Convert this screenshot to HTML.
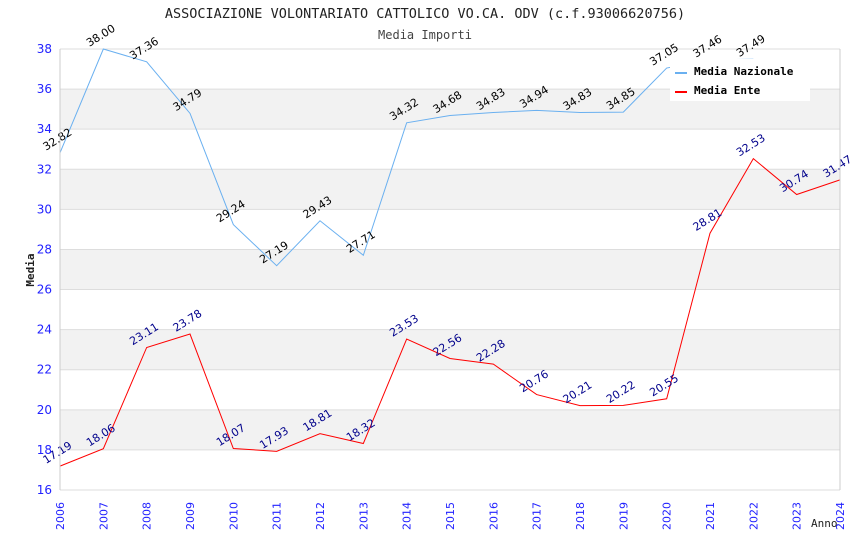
<!DOCTYPE html>
<html><head><meta charset="utf-8"><style>
body{margin:0;background:#fff;}
svg text{font-family:"DejaVu Sans","Liberation Sans",sans-serif;}
.mono{font-family:"DejaVu Sans Mono","Liberation Mono",monospace !important;}
</style></head><body>
<svg id="chart" width="850" height="550" xmlns="http://www.w3.org/2000/svg">
<text class="mono" x="425" y="18" text-anchor="middle" font-size="13.5" fill="#222">ASSOCIAZIONE VOLONTARIATO CATTOLICO VO.CA. ODV (c.f.93006620756)</text>
<text class="mono" x="425" y="39" text-anchor="middle" font-size="12" fill="#444">Media Importi</text>
<text class="mono" transform="translate(34,270) rotate(-90)" text-anchor="middle" font-size="11" font-weight="bold" fill="#222">Media</text>
<text class="mono" x="811" y="527" font-size="11" fill="#222">Anno</text>
<g id="bands"></g><g id="grid"></g><g id="series"></g><g id="labels"></g><g id="axes"></g>
<g>
<rect x="670" y="59" width="140" height="42" fill="#fff"/>
<rect x="675" y="72" width="12" height="2" fill="#6ab0f0"/>
<text class="mono" x="694" y="75" font-size="11" font-weight="bold" fill="#000">Media Nazionale</text>
<rect x="675" y="91" width="12" height="2" fill="#f00"/>
<text class="mono" x="694" y="94" font-size="11" font-weight="bold" fill="#000">Media Ente</text>
</g>
</svg>
<script>
const years=[2006,2007,2008,2009,2010,2011,2012,2013,2014,2015,2016,2017,2018,2019,2020,2021,2022,2023,2024];
const nazionale=[32.82,38.00,37.36,34.79,29.24,27.19,29.43,27.71,34.32,34.68,34.83,34.94,34.83,34.85,37.05,37.46,37.49,null,null];
const ente=[17.19,18.06,23.11,23.78,18.07,17.93,18.81,18.32,23.53,22.56,22.28,20.76,20.21,20.22,20.55,28.81,32.53,30.74,31.47];
const yTicks=[16,18,20,22,24,26,28,30,32,34,36,38];
const NS="http://www.w3.org/2000/svg";
const X0=60,X1=840,Y0=490,Y1=49,YMIN=16,YMAX=38;
function xs(i){return X0+(X1-X0)*i/(years.length-1);}
function ys(v){return Y0-(v-YMIN)/(YMAX-YMIN)*(Y0-Y1);}
function mk(tag,attrs,parent){const e=document.createElementNS(NS,tag);for(const k in attrs)e.setAttribute(k,attrs[k]);document.getElementById(parent).appendChild(e);return e;}
for(let i=0;i<yTicks.length-1;i++){
  if(i%2===1){const r=mk('rect',{x:X0,y:ys(yTicks[i+1]),width:X1-X0,height:ys(yTicks[i])-ys(yTicks[i+1]),fill:'#f2f2f2'},'bands');
  
  }
}
yTicks.forEach(t=>{
  const l=mk('line',{x1:X0,x2:X1,y1:ys(t),y2:ys(t),stroke:'#ddd','stroke-width':1},'grid');
  
  
  const tx=mk('text',{x:X0-8,y:ys(t)+4,'text-anchor':'end','font-size':12,fill:'#22f'},'axes');
  tx.textContent=t;
  
  
});
mk('line',{x1:X0,x2:X0,y1:Y1,y2:Y0,stroke:'#ccc'},'axes');
mk('line',{x1:X1,x2:X1,y1:Y1,y2:Y0,stroke:'#ccc'},'axes');
years.forEach((y,i)=>{
  const tx=mk('text',{transform:`translate(${xs(i)+4},${Y0+40}) rotate(-90)`,'font-size':11,fill:'#22f'},'axes');
  tx.textContent=y;
  
  
});
function series(vals,color,lblColor,name){
  let d='';
  vals.forEach((v,i)=>{if(v==null)return;d+=(d?'L':'M')+xs(i)+','+ys(v);});
  const p=mk('path',{d:d,fill:'none',stroke:color,'stroke-width':1},'series');
  
  
  vals.forEach((v,i)=>{if(v==null)return;
    const t=mk('text',{transform:`translate(${xs(i)-14},${ys(v)-2}) rotate(-32)`,'font-size':11,fill:lblColor},'labels');
    t.textContent=v.toFixed(2);
    
    
  });
}
series(nazionale,'#6ab0f0','#000','media-nazionale');
series(ente,'#f00','#00008b','media-ente');
</script>
</body></html>
